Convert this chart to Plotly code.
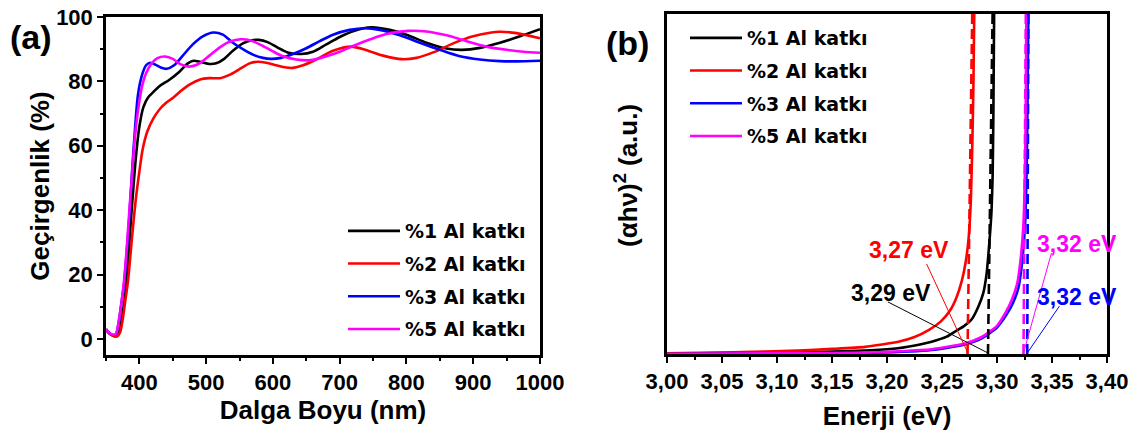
import plotly.graph_objects as go

# ---------------- data: panel (a) transmittance ----------------
series_names = ["%1 Al katkı", "%2 Al katkı", "%3 Al katkı", "%5 Al katkı"]
series_colors = ["#000000", "#ff0000", "#0000ff", "#ff00ff"]

wl_1 = [350, 356, 362, 367, 371, 375, 379, 383, 387, 391, 395, 400, 406, 413, 420, 430, 445, 460, 472, 481,
        492, 505, 515, 527, 540, 555, 568, 579, 592, 607, 622, 642, 660, 680, 700, 720, 748, 775, 800, 830,
        860, 883, 910, 940, 970, 1000]
T_1 = [3.0, 1.5, 0.9, 0.9, 3, 8, 14, 24, 36, 47, 57, 66, 72, 75, 76.5, 78.5, 80.5, 83, 85.5, 86.4,
       86, 85.4, 85.6, 87, 89.5, 91.8, 92.8, 92.9, 92.2, 90.5, 89, 88.5, 89.2, 91.5, 93.8, 95.6, 96.8, 96, 94.5, 92,
       90.2, 89.8, 90.4, 92, 94, 96.2]

wl_2 = [350, 356, 362, 367, 371, 375, 379, 383, 387, 391, 395, 400, 405, 412, 421, 431, 441, 451, 462, 475,
        491, 505, 521, 535, 550, 565, 577, 590, 605, 620, 630, 645, 665, 690, 717, 740, 765, 793, 815, 840,
        870, 900, 938, 965, 1000]
T_2 = [3.0, 1.5, 0.8, 0.8, 2, 6, 12, 18, 27, 36, 44, 52, 59, 64.5, 68.5, 71.5, 73.5, 75, 77, 79,
       80.6, 81, 81, 82, 83.8, 85.6, 86.1, 85.8, 85, 84.3, 84.2, 85, 86.8, 89.5, 90.8, 89.7, 88, 86.9, 87.3, 89,
       91.8, 94, 95.4, 95, 93.4]

wl_3 = [350, 355, 361, 365, 369, 373, 377, 381, 385, 389, 393, 398, 404, 410, 416, 424, 432, 441, 452, 465,
        480, 495, 511, 525, 540, 555, 570, 585, 597, 612, 630, 650, 670, 690, 715, 738, 760, 790, 820, 850,
        880, 910, 940, 965, 1000]
T_3 = [3.0, 1.8, 1.2, 1.5, 5, 11, 17, 27, 38, 52, 64, 76, 82, 85, 85.8, 85.2, 84.3, 83.9, 85, 88,
       91.5, 94, 95.2, 94.5, 92, 90, 88.3, 87.3, 87, 87.3, 88.5, 90.3, 92.5, 94.5, 96, 96.5, 96, 94.3, 92, 89.8,
       87.8, 86.8, 86.3, 86.2, 86.4]

wl_5 = [350, 355, 361, 365, 369, 373, 377, 381, 385, 389, 393, 398, 404, 410, 418, 427, 439, 450, 462, 476,
        490, 505, 520, 535, 552, 567, 585, 600, 615, 635, 657, 680, 700, 720, 745, 770, 803, 830, 860, 890,
        920, 950, 975, 1000]
T_5 = [3.0, 1.8, 1.3, 1.6, 5.5, 11, 18, 28, 40, 51, 62, 71, 78.5, 82.5, 85.5, 87.2, 87.7, 87, 85.3, 84.6,
       85.6, 88, 90.5, 92.3, 93.1, 92.7, 91, 89.3, 87.8, 86.8, 86.6, 87.8, 89.2, 91, 93, 94.7, 95.7, 95.5, 94.3, 92.5,
       90.8, 89.8, 89.2, 88.9]

wl_ticks = [400, 500, 600, 700, 800, 900, 1000]
T_ticks = [0, 20, 40, 60, 80, 100]

# ---------------- data: panel (b) Tauc plot ----------------
E_1 = [3.000, 3.100, 3.150, 3.185, 3.210, 3.230, 3.2406, 3.2543, 3.2618, 3.270, 3.277, 3.283, 3.2875, 3.2905,
       3.293, 3.295, 3.296, 3.2967, 3.2975]
A_1 = [0.1, 0.4, 0.7, 1.1, 1.7, 2.8, 3.6, 5.1, 6.6, 8.2, 10.2, 13.9, 17.9, 23.5, 32.6, 42, 52, 70, 105]

E_2 = [3.000, 3.0588, 3.1194, 3.150, 3.180, 3.2103, 3.225, 3.2382, 3.2490, 3.2573, 3.2630, 3.2680, 3.2715,
       3.2742, 3.2762, 3.2776, 3.2786, 3.2795]
A_2 = [0.2, 0.5, 1.0, 1.5, 2.1, 3.6, 5.0, 7.1, 9.6, 12.8, 16.5, 21.5, 27.0, 34.0, 45.0, 62.0, 80.0, 105.0]

E_3 = [3.000, 3.100, 3.180, 3.2406, 3.2709, 3.2861, 3.300, 3.3085, 3.3145, 3.3195, 3.3225, 3.3255, 3.3270,
       3.3278, 3.3286]
A_3 = [0.0, 0.15, 0.3, 1.2, 2.8, 4.6, 7.8, 11.5, 15.0, 19.5, 26, 38, 55, 75, 105]

E_5 = [3.000, 3.100, 3.180, 3.2406, 3.2709, 3.2861, 3.300, 3.3075, 3.3134, 3.3182, 3.3212, 3.3240, 3.3255,
       3.3262, 3.3268]
A_5 = [0.0, 0.2, 0.4, 1.4, 3.1, 5.0, 8.3, 12.0, 15.9, 20.5, 27, 38, 55, 75, 105]

gap_bottom = [3.2918, 3.2732, 3.3275, 3.3241]   # dashed extrapolation lines: E at y=0
gap_top = [3.2960, 3.2775, 3.3285, 3.3262]      # E at top of axis
gap_labels = ["3,29 eV", "3,27 eV", "3,32 eV", "3,32 eV"]
label_E = [3.2035, 3.2200, 3.3725, 3.3725]
label_A = [17.9, 30.6, 16.8, 32.4]
pointer_from_E = [3.2009, 3.2360, 3.3568, 3.3495]
pointer_from_A = [15.3, 26.5, 14.1, 29.7]
pointer_to_E = [3.2918, 3.2732, 3.3275, 3.3241]
pointer_to_A = [0.3, 0.5, 0.3, 0.3]

E_ticks = [3.00, 3.05, 3.10, 3.15, 3.20, 3.25, 3.30, 3.35, 3.40]
E_ticktext = ["3,00", "3,05", "3,10", "3,15", "3,20", "3,25", "3,30", "3,35", "3,40"]

# ---------------- figure ----------------
W, H = 1136, 436
TICKFONT = dict(family="Liberation Sans", size=22, color="black", weight="bold")
TITLEFONT = dict(family="Liberation Sans", size=26, color="black", weight="bold")
LEGFONT = dict(family="DejaVu Sans", size=19, color="black", weight="bold")

fig = go.Figure()

wl_all = [wl_1, wl_2, wl_3, wl_5]
T_all = [T_1, T_2, T_3, T_5]
for i in range(4):
    fig.add_trace(go.Scatter(
        x=wl_all[i], y=T_all[i], mode="lines", name=series_names[i],
        line=dict(color=series_colors[i], width=2.6, shape="spline", smoothing=0.8),
        xaxis="x", yaxis="y", legend="legend", legendgroup="a%d" % i))

E_all = [E_1, E_2, E_3, E_5]
A_all = [A_1, A_2, A_3, A_5]
for i in range(4):
    fig.add_trace(go.Scatter(
        x=E_all[i], y=A_all[i], mode="lines", name=series_names[i],
        line=dict(color=series_colors[i], width=2.6, shape="spline", smoothing=0.5),
        xaxis="x2", yaxis="y2", legend="legend2", legendgroup="b%d" % i))

for i in range(4):
    fig.add_trace(go.Scatter(
        x=[gap_bottom[i], gap_top[i]], y=[0, 100], mode="lines", showlegend=False,
        line=dict(color=series_colors[i], width=2.6, dash="10px,5px"),
        xaxis="x2", yaxis="y2", hoverinfo="skip"))

shapes = []
annotations = []
for i in range(4):
    shapes.append(dict(type="line", xref="x2", yref="y2",
                       x0=pointer_from_E[i], y0=pointer_from_A[i],
                       x1=pointer_to_E[i], y1=pointer_to_A[i],
                       line=dict(color=series_colors[i], width=1)))
    annotations.append(dict(x=label_E[i], y=label_A[i], xref="x2", yref="y2", text=gap_labels[i],
                            showarrow=False, xanchor="center", yanchor="middle",
                            font=dict(family="Liberation Sans", size=23, color=series_colors[i], weight="bold")))

annotations.append(dict(x=30.5 / W, y=1 - 37.5 / H, xref="paper", yref="paper", text="(a)", showarrow=False,
                        xanchor="center", yanchor="middle",
                        font=dict(family="Liberation Sans", size=34, color="black", weight="bold")))
annotations.append(dict(x=627 / W, y=1 - 43 / H, xref="paper", yref="paper", text="(b)", showarrow=False,
                        xanchor="center", yanchor="middle",
                        font=dict(family="Liberation Sans", size=34, color="black", weight="bold")))
# y-axis title of panel (b), placed where the reference has it
annotations.append(dict(x=626 / W, y=1 - 176 / H, xref="paper", yref="paper",
                        text="(αhν)<sup>2</sup> (a.u.)", showarrow=False, textangle=-90,
                        xanchor="center", yanchor="middle", font=TITLEFONT))

axis_common = dict(showline=True, linewidth=2.5, linecolor="black", mirror=True, showgrid=False,
                   zeroline=False, ticks="outside", tickwidth=2, ticklen=6, tickcolor="black",
                   tickfont=TICKFONT, automargin=False)

fig.update_layout(
    width=W, height=H,
    margin=dict(l=0, r=0, t=0, b=0, autoexpand=False),
    paper_bgcolor="white", plot_bgcolor="white",
    xaxis=dict(domain=[106 / W, 540 / W], range=[350, 1000], tickvals=wl_ticks,
               minor=dict(ticks="outside", ticklen=3, tickwidth=2, dtick=50, tickcolor="black"),
               title=dict(text="Dalga Boyu (nm)", font=TITLEFONT, standoff=5), anchor="y", **axis_common),
    yaxis=dict(domain=[1 - 355 / H, 1 - 17 / H], range=[-5, 100], tickvals=T_ticks,
               minor=dict(ticks="outside", ticklen=3, tickwidth=2, dtick=10, tickcolor="black"),
               title=dict(text="Geçirgenlik (%)", font=TITLEFONT, standoff=0), anchor="x", **axis_common),
    xaxis2=dict(domain=[667 / W, 1107 / W], range=[3.0, 3.4], tickvals=E_ticks, ticktext=E_ticktext,
                minor=dict(ticks="outside", ticklen=3, tickwidth=2, dtick=0.025, tickcolor="black"),
                title=dict(text="Enerji (eV)", font=TITLEFONT, standoff=14), anchor="y2", **axis_common),
    yaxis2=dict(domain=[1 - 354 / H, 1 - 14 / H], range=[0, 100], showline=True, linewidth=2.5,
                linecolor="black", mirror=True, showgrid=False, zeroline=False, ticks="",
                showticklabels=False, anchor="x2", automargin=False),
    legend=dict(x=343 / W, xanchor="left", y=1 - 212 / H, yanchor="top", font=LEGFONT,
                bgcolor="rgba(0,0,0,0)", tracegroupgap=5, itemwidth=52, traceorder="grouped"),
    legend2=dict(x=685 / W, xanchor="left", y=1 - 19 / H, yanchor="top", font=LEGFONT,
                 bgcolor="rgba(0,0,0,0)", tracegroupgap=5, itemwidth=52, traceorder="grouped"),
    shapes=shapes, annotations=annotations,
    showlegend=True,
)

fig.write_html("out.html")
